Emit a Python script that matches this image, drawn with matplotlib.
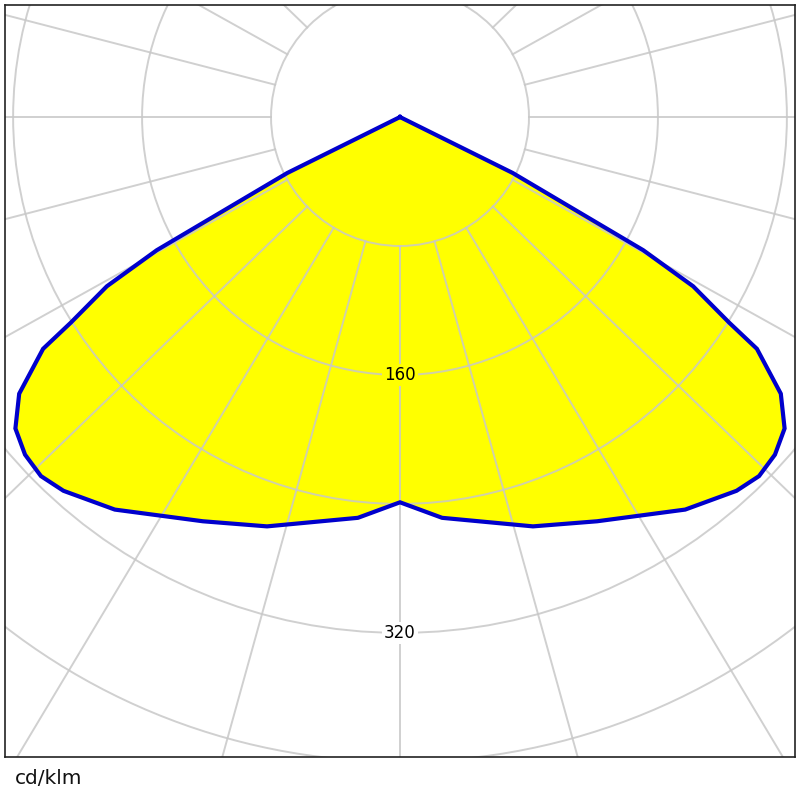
import numpy as np
import matplotlib
matplotlib.use("Agg")
import matplotlib.pyplot as plt
from matplotlib.patches import Circle

## DATA (symmetric C0/C180 curve)
gamma = [0, 6, 18, 26, 36, 42, 45, 48, 51, 54, 57, 58, 60, 61.3, 63.6]   # deg from nadir
cdklm = [239, 250, 267, 279, 301, 312, 315, 313, 307, 292, 264, 241, 210, 172, 78]
ring_values = [80, 160, 240, 320, 400, 480]
ring_labels = [160, 320]
spoke_step = 15

## FIGURE
fig = plt.figure(figsize=(8, 8), dpi=100)
ax = fig.add_axes([5 / 800, 43 / 800, 790 / 800, 752 / 800])
ax.set_xlim(-245, 245)
ax.set_ylim(-397, 69.5)
ax.set_aspect('equal')
ax.set_xticks([])
ax.set_yticks([])
for s in ax.spines.values():
	s.set_color('#222222')
	s.set_linewidth(1.2)

# closed polar curve -> cartesian (nadir pointing down)
g = np.asarray(gamma, dtype=float)
I = np.asarray(cdklm, dtype=float)
th = np.radians(np.concatenate([g[::-1], -g[1:]]))
r = np.concatenate([I[::-1], I[1:]])
x = np.concatenate([[0], -r * np.sin(th), [0]])
y = np.concatenate([[0], -r * np.cos(th), [0]])

ax.fill(x, y, color='#ffff00', zorder=1, lw=0)

# grid
gcol = '#c8c8c8'
for rv in ring_values:
	ax.add_patch(Circle((0, 0), rv, fill=False, ec=gcol, lw=1.4, alpha=0.85, zorder=2))
# spokes in the reference lean slightly towards the horizontal
squash = 0.965
for a in range(0, 360, spoke_step):
	t = np.radians(a)
	dx, dy = np.sin(t), -np.cos(t) * squash
	n = np.hypot(dx, dy)
	dx, dy = dx / n, dy / n
	ax.plot([80 * dx, 700 * dx], [80 * dy, 700 * dy],
		color=gcol, lw=1.4, alpha=0.85, zorder=2)

ax.plot(x, y, color='#0000cc', lw=3, zorder=3, solid_joinstyle='miter')

# ring labels
for rv in ring_labels:
	inside = np.interp(0, g, I) > rv
	ax.text(0, -rv, str(rv), ha='center', va='center', fontsize=12, zorder=4,
		bbox=dict(facecolor='#ffff00' if inside else 'white', edgecolor='none', pad=1.5))

fig.text(15 / 800, 1 - 778 / 800, 'cd/klm', ha='left', va='center', fontsize=14.5, color='#111111')

fig.savefig('out.png', dpi=100)
